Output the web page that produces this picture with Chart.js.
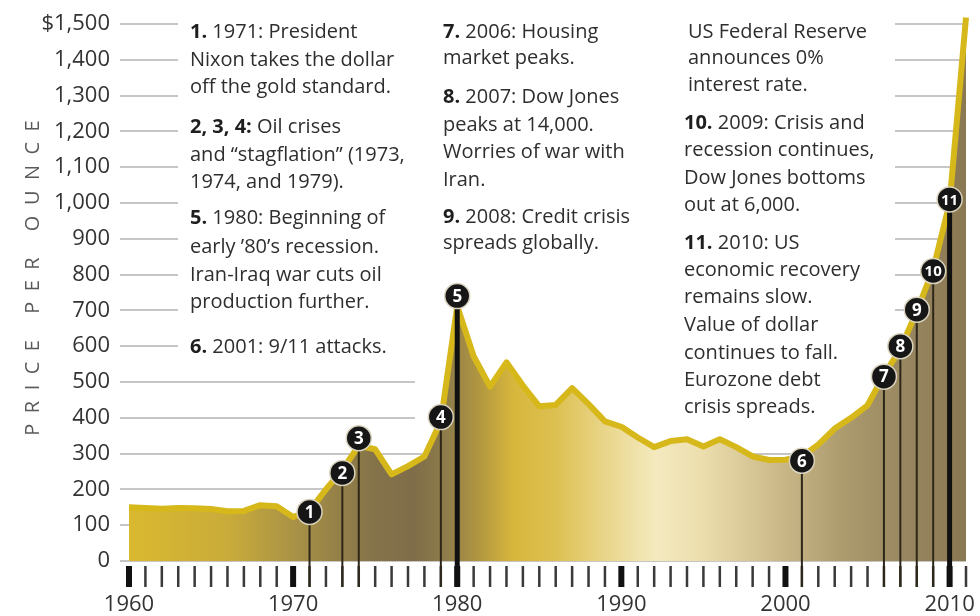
<!DOCTYPE html>
<html>
<head>
<meta charset="utf-8">
<script src="https://cdn.jsdelivr.net/npm/chart.js@4.4.1/dist/chart.umd.min.js"></script>
<style>
  html, body { margin: 0; padding: 0; background: #fff; }
  #wrap { width: 980px; height: 616px; position: relative; }
</style>
</head>
<body>
<div id="wrap"><canvas id="goldChart"></canvas></div>
<script>
// Gold, price per ounce, one value per year
const years = [
  1960, 1961, 1962, 1963, 1964, 1965, 1966, 1967, 1968, 1969,
  1970, 1971, 1972, 1973, 1974, 1975, 1976, 1977, 1978, 1979,
  1980, 1981, 1982, 1983, 1984, 1985, 1986, 1987, 1988, 1989,
  1990, 1991, 1992, 1993, 1994, 1995, 1996, 1997, 1998, 1999,
  2000, 2001, 2002, 2003, 2004, 2005, 2006, 2007, 2008, 2009,
  2010, 2011
];
const prices = [
  150, 148, 146, 148, 147, 145, 139, 140, 156, 153,
  123, 140, 200, 255, 322, 312, 242, 265, 292, 390,
  712, 572, 487, 555, 490, 432, 436, 483, 438, 390,
  375, 345, 318, 335, 340, 320, 340, 318, 292, 282,
  283, 292, 325, 370, 400, 435, 520, 592, 698, 815,
  1000, 1518
];

// Numbered events sitting on the curve
const eventYears  = [1971, 1973, 1974, 1979, 1980, 2001, 2006, 2007, 2008, 2009, 2010];
const eventPrices = [137, 246, 343, 402, 740, 280, 515, 600, 702, 810, 1010];
const eventLabels = ['1', '2', '3', '4', '5', '6', '7', '8', '9', '10', '11'];
const heavyEvents = [1980, 2010];

const decadeLabels = ['1960', '1970', '1980', '1990', '2000', '2010'];

// Notes: column, text line, optional bold lead
const notes = [
  [0, 32, '1.', ' 1971: President'],
  [0, 60, '', 'Nixon takes the dollar'],
  [0, 87, '', 'off the gold standard.'],
  [0, 127, '2, 3, 4:', ' Oil crises'],
  [0, 155, '', 'and \u201cstagflation\u201d (1973,'],
  [0, 182, '', '1974, and 1979).'],
  [0, 218, '5.', ' 1980: Beginning of'],
  [0, 247, '', 'early \u201980\u2019s recession.'],
  [0, 275, '', 'Iran-Iraq war cuts oil'],
  [0, 302, '', 'production further.'],
  [0, 347, '6.', ' 2001: 9/11 attacks.'],
  [1, 32, '7.', ' 2006: Housing'],
  [1, 58, '', 'market peaks.'],
  [1, 97, '8.', ' 2007: Dow Jones'],
  [1, 125, '', 'peaks at 14,000.'],
  [1, 152, '', 'Worries of war with'],
  [1, 180, '', 'Iran.'],
  [1, 217, '9.', ' 2008: Credit crisis'],
  [1, 243, '', 'spreads globally.'],
  [3, 32, '', 'US Federal Reserve'],
  [3, 58, '', 'announces 0%'],
  [3, 85, '', 'interest rate.'],
  [2, 123, '10.', ' 2009: Crisis and'],
  [2, 150, '', 'recession continues,'],
  [2, 178, '', 'Dow Jones bottoms'],
  [2, 205, '', 'out at 6,000.'],
  [2, 243, '11.', ' 2010: US'],
  [2, 270, '', 'economic recovery'],
  [2, 297, '', 'remains slow.'],
  [2, 325, '', 'Value of dollar'],
  [2, 353, '', 'continues to fall.'],
  [2, 380, '', 'Eurozone debt'],
  [2, 407, '', 'crisis spreads.']
];
const noteColumns = [190, 443, 684, 688];

const FONT = "'Open Sans', sans-serif";
Chart.defaults.font.family = FONT;

function areaGradient(context) {
  const { ctx, chartArea } = context.chart;
  if (!chartArea) return null;
  const g = ctx.createLinearGradient(chartArea.left, 0, chartArea.right, 0);
  g.addColorStop(0.00, '#dab92f');
  g.addColorStop(0.12, '#c9ab3b');
  g.addColorStop(0.20, '#a89146');
  g.addColorStop(0.29, '#85744a');
  g.addColorStop(0.34, '#7e6d48');
  g.addColorStop(0.38, '#8f7d4b');
  g.addColorStop(0.42, '#b39840');
  g.addColorStop(0.46, '#d8b73c');
  g.addColorStop(0.51, '#ddc052');
  g.addColorStop(0.57, '#e9d68b');
  g.addColorStop(0.63, '#f4eabf');
  g.addColorStop(0.69, '#ebdcab');
  g.addColorStop(0.77, '#cdbb8c');
  g.addColorStop(0.85, '#ad9c6e');
  g.addColorStop(0.93, '#988660');
  g.addColorStop(1.00, '#8a7852');
  return g;
}

const decorations = {
  id: 'decorations',
  beforeDatasetsDraw(chart) {
    const { ctx, scales: { x, y } } = chart;
    ctx.save();
    // blank panels behind the notes
    ctx.fillStyle = '#fff';
    ctx.fillRect(178, 0, 717, 365);
    ctx.fillRect(415, 365, 480, 75);
    // one tick per year, heavy ones on the decades
    for (let yr = x.min; yr <= x.max; yr++) {
      const px = x.getPixelForValue(yr);
      const major = yr % 10 === 0;
      ctx.fillStyle = major ? '#111' : '#3a3a3a';
      const w = major ? 6 : 2.5;
      ctx.fillRect(px - w / 2, y.bottom + 5, w, 21);
    }
    ctx.restore();
  },
  afterDatasetDraw(chart, args) {
    if (args.index !== 0) return;
    const { ctx, scales: { x, y } } = chart;
    ctx.save();
    eventYears.forEach((yr, i) => {
      const heavy = heavyEvents.includes(yr);
      const px = x.getPixelForValue(yr);
      const top = y.getPixelForValue(eventPrices[i]);
      ctx.fillStyle = heavy ? '#111' : '#2e2719';
      const w = heavy ? 5 : 2;
      ctx.fillRect(px - w / 2, top, w, y.bottom + 26 - top);
    });
    ctx.restore();
  },
  afterDatasetsDraw(chart) {
    const { ctx } = chart;
    const meta = chart.getDatasetMeta(1);
    ctx.save();
    ctx.fillStyle = '#fff';
    ctx.textAlign = 'center';
    ctx.textBaseline = 'middle';
    meta.data.forEach((pt, i) => {
      const label = eventLabels[i];
      ctx.font = `bold ${label.length > 1 ? 15 : 17}px ${FONT}`;
      ctx.fillText(label, pt.x, pt.y + 1);
    });
    ctx.restore();
  },
  afterDraw(chart) {
    const { ctx } = chart;
    ctx.save();
    ctx.textBaseline = 'middle';
    ctx.textAlign = 'left';
    notes.forEach(([col, ty, lead, text]) => {
      let tx = noteColumns[col];
      if (lead) {
        ctx.font = `bold 20px ${FONT}`;
        ctx.fillStyle = '#1e1e1e';
        ctx.fillText(lead, tx, ty);
        tx += ctx.measureText(lead).width;
      }
      ctx.font = `20px ${FONT}`;
      ctx.fillStyle = '#2e2e2e';
      ctx.fillText(text, tx, ty);
    });

    // axis title, letter-spaced and rotated
    const title = 'PRICE PER OUNCE';
    const spacing = 10.5;
    ctx.font = `20px ${FONT}`;
    ctx.fillStyle = '#5a5a5a';
    ctx.translate(33, 278);
    ctx.rotate(-Math.PI / 2);
    const widths = [...title].map(ch => ctx.measureText(ch).width);
    const total = widths.reduce((a, b) => a + b, 0) + spacing * (title.length - 1);
    let cx = -total / 2;
    [...title].forEach((ch, i) => {
      ctx.fillText(ch, cx, 0);
      cx += widths[i] + spacing;
    });
    ctx.restore();
  }
};

new Chart(document.getElementById('goldChart'), {
  type: 'line',
  data: {
    datasets: [{
      label: 'Price per ounce',
      data: years.map((yr, i) => ({ x: yr, y: prices[i] })),
      borderColor: '#d7b81a',
      borderWidth: 6,
      borderJoinStyle: 'round',
      backgroundColor: areaGradient,
      fill: 'origin',
      pointRadius: 0,
      tension: 0,
      clip: false,
      order: 1
    }, {
      type: 'scatter',
      label: 'Events',
      data: eventYears.map((yr, i) => ({ x: yr, y: eventPrices[i] })),
      showLine: false,
      pointRadius: 12.5,
      pointBackgroundColor: '#161616',
      pointBorderColor: '#d9d2bd',
      pointBorderWidth: 1.5,
      clip: false,
      order: 0
    }]
  },
  options: {
    responsive: true,
    maintainAspectRatio: false,
    animation: false,
    layout: { padding: { top: 24, right: 13, left: 0, bottom: 0 } },
    plugins: {
      legend: { display: false },
      tooltip: { enabled: false }
    },
    scales: {
      x: {
        type: 'linear',
        min: 1960,
        max: 2011,
        grid: { display: false, drawTicks: true, tickLength: 29 },
        border: { display: false },
        ticks: {
          stepSize: 10,
          includeBounds: false,
          autoSkip: false,
          maxRotation: 0,
          padding: 2,
          color: '#333',
          font: { size: 22 },
          callback: v => decadeLabels.includes(String(v)) ? String(v) : ''
        },
        afterFit: s => { s.height = 55; }
      },
      y: {
        min: 0,
        max: 1500,
        grid: { color: '#c6c6c6', lineWidth: 2, tickLength: 9 },
        border: { display: false },
        ticks: {
          stepSize: 100,
          padding: 10,
          color: '#333',
          font: { size: 22 },
          callback: v => (v === 1500 ? '$' : '') + v.toLocaleString('en-US')
        },
        afterFit: s => { s.width = 129; }
      }
    }
  },
  plugins: [decorations]
});
</script>
</body>
</html>
